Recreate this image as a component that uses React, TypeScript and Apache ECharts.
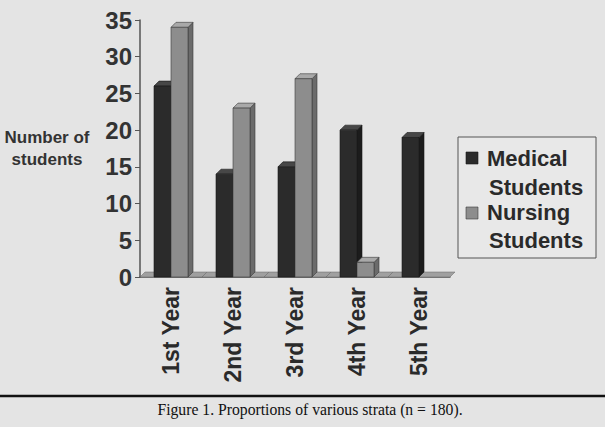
import React, { useEffect, useRef } from "react";
import * as echarts from "echarts";

const categories = ["1st Year", "2nd Year", "3rd Year", "4th Year", "5th Year"];
const medical = [26, 14, 15, 20, 19];
const nursing = [34, 23, 27, 2, 0];
const seriesNames = ["Medical Students", "Nursing Students"];
const caption = "Figure 1. Proportions of various strata (n = 180).";

const BW = 17;
const D = 5;

function makeRender(which: number) {
  return (params: any, api: any) => {
    const idx = api.value(0);
    const val = api.value(1);
    const base = api.coord([idx, 0]);
    const top = api.coord([idx, val]);
    const catW = api.size([1, 0])[0];
    const children: any[] = [];
    if (which === 0) {
      const fx0 = base[0] - catW / 2;
      const fx1 = base[0] + catW / 2;
      children.push({
        type: "polygon",
        shape: { points: [[fx0, base[1]], [fx0 + D, base[1] - D], [fx1 + D, base[1] - D], [fx1, base[1]]] },
        style: { fill: "#a0a0a0", stroke: "#666", lineWidth: 0.5 },
      });
    }
    if (val <= 0) return { type: "group", children };
    const x0 = which === 0 ? base[0] - BW : base[0];
    const x1 = x0 + BW;
    const y0 = base[1];
    const y1 = top[1];
    const front = which === 0 ? "#2b2b2b" : "#8d8d8d";
    const topC = which === 0 ? "#474747" : "#a9a9a9";
    const side = which === 0 ? "#1c1c1c" : "#6b6b6b";
    const edge = which === 0 ? "#1a1a1a" : "#3a3a3a";
    children.push({
      type: "polygon",
      shape: { points: [[x1, y1], [x1 + D, y1 - D], [x1 + D, y0 - D], [x1, y0]] },
      style: { fill: side, stroke: edge, lineWidth: 0.6 },
    });
    children.push({
      type: "polygon",
      shape: { points: [[x0, y1], [x0 + D, y1 - D], [x1 + D, y1 - D], [x1, y1]] },
      style: { fill: topC, stroke: edge, lineWidth: 0.6 },
    });
    children.push({
      type: "rect",
      shape: { x: x0, y: y1, width: BW, height: y0 - y1 },
      style: { fill: front, stroke: edge, lineWidth: 0.6 },
    });
    return { type: "group", children };
  };
}

export default function App() {
  const ref = useRef<HTMLDivElement>(null);
  useEffect(() => {
    document.body.style.margin = "0";
    document.body.style.background = "#e4e4e4";
    const chart = echarts.init(ref.current!, undefined, { renderer: "svg" });
    const legendText = {
      fontSize: 22,
      fontWeight: "bold",
      fontFamily: "Liberation Sans",
      fill: "#2a2a2a",
      textVerticalAlign: "middle",
    };
    chart.setOption({
      animation: false,
      backgroundColor: "#e4e4e4",
      grid: { left: 140, right: 155, top: 20, bottom: 150 },
      xAxis: {
        type: "category",
        data: categories,
        axisLine: { lineStyle: { color: "#555", width: 1.5 } },
        axisTick: { length: 6, lineStyle: { color: "#555" } },
        axisLabel: {
          rotate: 90,
          fontSize: 23,
          fontWeight: "bold",
          fontFamily: "Liberation Sans",
          color: "#2a2a2a",
          margin: 10,
        },
      },
      yAxis: {
        type: "value",
        min: 0,
        max: 35,
        interval: 5,
        name: "Number of\nstudents",
        nameLocation: "middle",
        nameRotate: 0,
        nameGap: 93,
        nameTextStyle: {
          fontSize: 17,
          fontWeight: "bold",
          fontFamily: "Liberation Sans",
          color: "#333",
          lineHeight: 22,
          align: "center",
        },
        splitLine: { show: false },
        axisLine: { show: true, lineStyle: { color: "#555", width: 1.5 } },
        axisTick: { show: true, length: 5, lineStyle: { color: "#555" } },
        axisLabel: {
          fontSize: 24,
          fontWeight: "bold",
          fontFamily: "Liberation Sans",
          color: "#333",
          margin: 8,
        },
      },
      series: [
        {
          type: "custom",
          name: seriesNames[0],
          renderItem: makeRender(0),
          encode: { x: 0, y: 1 },
          data: medical.map((v, i) => [i, v]),
          z: 2,
        },
        {
          type: "custom",
          name: seriesNames[1],
          renderItem: makeRender(1),
          encode: { x: 0, y: 1 },
          data: nursing.map((v, i) => [i, v]),
          z: 3,
        },
      ],
      graphic: [
        { type: "rect", shape: { x: 458, y: 137, width: 138, height: 121 }, style: { fill: "#e8e8e8", stroke: "#555", lineWidth: 1 } },
        { type: "rect", shape: { x: 466, y: 152, width: 12, height: 12 }, style: { fill: "#2b2b2b", stroke: "#1a1a1a", lineWidth: 0.6 } },
        { type: "text", x: 487, y: 158, style: { ...legendText, text: "Medical" } },
        { type: "text", x: 489, y: 187, style: { ...legendText, text: "Students" } },
        { type: "rect", shape: { x: 466, y: 207, width: 12, height: 12 }, style: { fill: "#8d8d8d", stroke: "#3a3a3a", lineWidth: 0.6 } },
        { type: "text", x: 487, y: 212, style: { ...legendText, text: "Nursing" } },
        { type: "text", x: 489, y: 240, style: { ...legendText, text: "Students" } },
        { type: "line", shape: { x1: 0, y1: 396, x2: 605, y2: 396 }, style: { stroke: "#111", lineWidth: 2.4 } },
        {
          type: "text",
          x: 310,
          y: 409,
          style: {
            text: caption,
            fontSize: 15.7,
            fontFamily: "Liberation Serif",
            fill: "#111",
            textAlign: "center",
            textVerticalAlign: "middle",
          },
        },
      ],
    });
    return () => chart.dispose();
  }, []);
  return <div ref={ref} style={{ width: 605, height: 427 }} />;
}
